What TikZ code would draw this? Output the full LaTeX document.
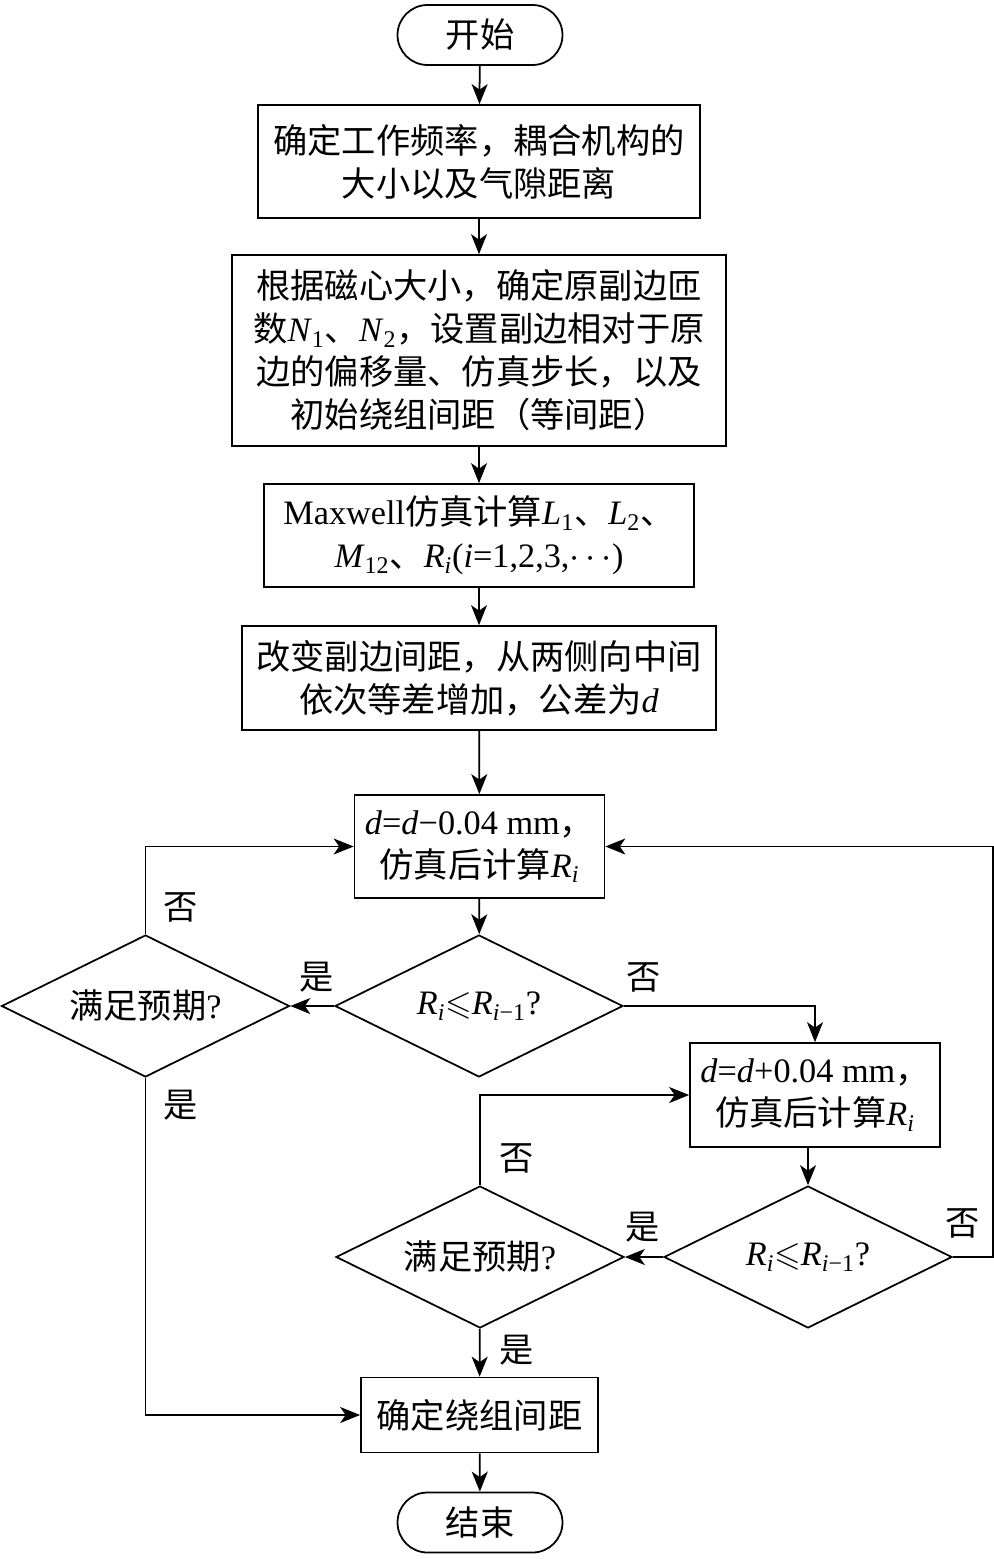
\documentclass[tikz,border=0pt]{standalone}
\usepackage{fontspec}
\usepackage{amssymb}
\usepackage{tikz}
\usetikzlibrary{shapes.geometric,arrows.meta}
\setmainfont{Liberation Serif}
\newfontfamily\cjk{Noto Sans CJK SC}
\newcommand{\zh}[1]{{\cjk #1}}
\newcommand{\vsub}[2]{\textit{#1}\textsubscript{#2}}

\begin{document}
\begin{tikzpicture}[x=0.02cm,y=-0.02cm,
    every node/.style={font=\fontsize{19.5}{24.5}\selectfont},
    proc/.style={draw,line width=1pt,align=center,inner sep=0pt},
    term/.style={draw,line width=1pt,rounded corners=0.6cm,minimum width=3.3cm,minimum height=1.2cm,inner sep=0pt},
    cond/.style={draw,line width=1pt,diamond,aspect=2,inner sep=0pt,minimum width=5.76cm,minimum height=2.84cm},
    arr/.style={line width=1pt,-{Stealth[length=0.4cm,width=0.32cm,inset=0.11cm]}},
    lbl/.style={font=\fontsize{19.5}{24}\selectfont\cjk}]
    \useasboundingbox (0,0) rectangle (994,1559);
    % Main column
    \node[term] (start) at (480,35) {\zh{开始}};
    \node[proc,minimum width=8.84cm,minimum height=2.26cm] (setup) at (479,161.5)
        {\zh{确定工作频率，耦合机构的}\\\zh{大小以及气隙距离}};
    \node[proc,minimum width=9.88cm,minimum height=3.82cm] (turns) at (479,350.5)
        {\zh{根据磁心大小，确定原副边匝}\\\zh{数}\vsub{N}{1}\zh{、}\vsub{N}{2}\zh{，设置副边相对于原}\\\zh{边的偏移量、仿真步长，以及}\\\zh{初始绕组间距（等间距）}};
    \node[proc,minimum width=8.6cm,minimum height=2.06cm] (sim) at (479,535.5)
        {Maxwell\zh{仿真计算}\vsub{L}{1}\zh{、}\vsub{L}{2}\zh{、}\\\vsub{M}{12}\zh{、}\vsub{R}{\textit{i}}(\textit{i}=1,2,3,$\cdots$)};
    \node[proc,minimum width=9.48cm,minimum height=2.08cm] (vary) at (479,678)
        {\zh{改变副边间距，从两侧向中间}\\\zh{依次等差增加，公差为}\textit{d}};
    \node[proc,minimum width=5cm,minimum height=2.06cm] (dec) at (479.5,846.5)
        {\textit{d}=\textit{d}−0.04 mm\zh{，}\\\zh{仿真后计算}\vsub{R}{\textit{i}}};
    % Decisions
    \node[cond] (cmpA) at (479,1006) {\vsub{R}{\textit{i}}$\leqslant$\vsub{R}{\textit{i}−1}?};
    \node[cond] (goalA) at (145.5,1006) {\zh{满足预期}?};
    \node[proc,minimum width=5cm,minimum height=2.08cm] (inc) at (815,1095)
        {\textit{d}=\textit{d}+0.04 mm\zh{，}\\\zh{仿真后计算}\vsub{R}{\textit{i}}};
    \node[cond] (cmpB) at (808,1257) {\vsub{R}{\textit{i}}$\leqslant$\vsub{R}{\textit{i}−1}?};
    \node[cond] (goalB) at (480,1257) {\zh{满足预期}?};
    \node[proc,minimum width=4.74cm,minimum height=1.5cm] (fix) at (479.5,1415) {\zh{确定绕组间距}};
    \node[term] (stop) at (480,1522.5) {\zh{结束}};
    \coordinate (rloop) at (993,1257);
    % Arrows
    \draw[arr] (start) -- (setup);
    \draw[arr] (setup) -- (turns);
    \draw[arr] (turns) -- (sim);
    \draw[arr] (sim) -- (vary);
    \draw[arr] (vary) -- (dec);
    \draw[arr] (dec) -- (cmpA);
    \draw[arr] (cmpA) -- (goalA);
    \draw[arr] (cmpA.east) -| (inc.north);
    \draw[arr] (goalA.north) |- (dec.west);
    \draw[arr] (goalA.south) |- (fix.west);
    \draw[arr] (inc.south -| cmpB.north) -- (cmpB.north);
    \draw[arr] (cmpB) -- (goalB);
    \draw[arr] (goalB.north) |- (inc.west);
    \draw[arr] (cmpB.east) -- (rloop) |- (dec.east);
    \draw[arr] (goalB) -- (fix);
    \draw[arr] (fix) -- (stop);
    % Labels
    \node[lbl] (noA) at (181,907) {否};
    \node[lbl] (yesA) at (317,977) {是};
    \node[lbl] (noB) at (644,977) {否};
    \node[lbl] (yesB) at (181,1105) {是};
    \node[lbl] (noC) at (517,1158) {否};
    \node[lbl] (yesC) at (643,1227) {是};
    \node[lbl] (noD) at (963,1223) {否};
    \node[lbl] (yesD) at (517,1350) {是};
\end{tikzpicture}
\end{document}
